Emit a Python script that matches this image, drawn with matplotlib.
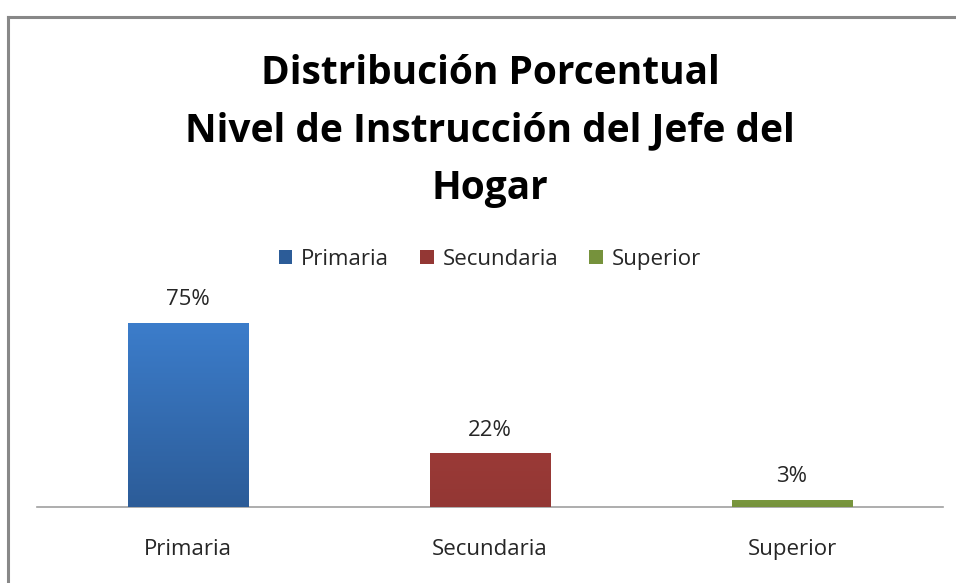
import matplotlib
matplotlib.use("Agg")
import matplotlib.pyplot as plt
import numpy as np
from matplotlib.colors import LinearSegmentedColormap
from matplotlib.patches import Patch
from matplotlib.lines import Line2D

categories = ["Primaria", "Secundaria", "Superior"]
values = [75, 22, 3]
labels = ["75%", "22%", "3%"]
top_colors = ["#3C7DCB", "#9A3A37", "#7A983F"]
bottom_colors = ["#2C5C98", "#933734", "#76923C"]
title = "Distribución Porcentual\nNivel de Instrucción del Jefe del\nHogar"

plt.rcParams['font.family'] = ['Open Sans', 'DejaVu Sans']

fig = plt.figure(figsize=(9.56, 5.83), dpi=100)
ax = fig.add_axes([37/956, 1-507/583, (943-37)/956, 0.42])
ax.set_xlim(-0.5, 2.5)
ax.set_ylim(0, 75*0.42*583/184)

x = np.arange(len(categories))
bars = ax.bar(x, values, width=0.40, color=top_colors, zorder=2)
for b, c1, c2 in zip(bars, top_colors, bottom_colors):
    cmap = LinearSegmentedColormap.from_list("g", [c2, c1])
    grad = np.linspace(0, 1, 256).reshape(-1, 1)
    x0, y0 = b.get_x(), b.get_y()
    im = ax.imshow(grad, cmap=cmap, aspect='auto', origin='lower',
                   extent=[x0, x0 + b.get_width(), y0, y0 + b.get_height()], zorder=3)
    im.set_clip_path(b)

ax.set_xlim(-0.5, 2.5)
ax.set_ylim(0, 75*0.42*583/184)

for xi, v, lab in zip(x, values, labels):
    ax.annotate(lab, (xi, v), xytext=(0, 9), textcoords='offset points',
                ha='center', va='bottom', fontsize=16, color='#262626')

for s in ['top', 'right', 'left']:
    ax.spines[s].set_visible(False)
ax.spines['bottom'].set_color('#A0A0A0')
ax.spines['bottom'].set_linewidth(1.2)
ax.set_yticks([])
ax.set_xticks(x)
ax.set_xticklabels(categories, fontsize=16, color='#262626')
ax.tick_params(axis='x', length=0, pad=23)

handles = [Patch(facecolor=c, edgecolor='none') for c in bottom_colors]
fig.legend(handles, categories, loc='center', bbox_to_anchor=(490/956, 1-259/583),
           ncol=3, frameon=False, fontsize=16, handlelength=0.6, handleheight=0.6,
           handletextpad=0.4, columnspacing=1.4, labelcolor='#262626')

fig.text(490/956, 1-131/583, title, ha='center', va='center', fontsize=28,
         fontweight='bold', linespacing=1.63, color='black')

# chart frame (top and left edges)
fig.add_artist(Line2D([8/956, 1], [1-17/583, 1-17/583], color='#888888', lw=2.2,
                      transform=fig.transFigure))
fig.add_artist(Line2D([8/956, 8/956], [0, 1-17/583], color='#888888', lw=2.2,
                      transform=fig.transFigure))

fig.savefig("out.png", dpi=100, facecolor='white')
